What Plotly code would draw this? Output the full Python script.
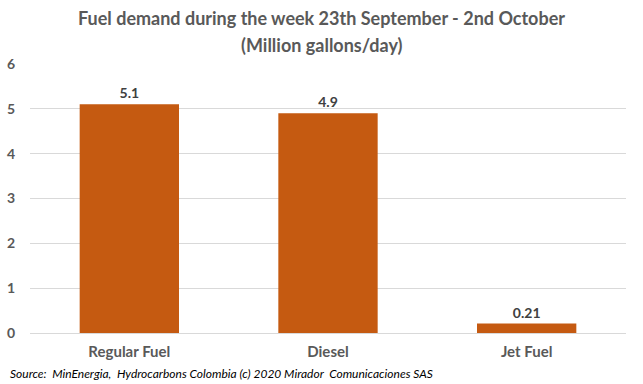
import plotly.graph_objects as go

categories = ["Regular Fuel", "Diesel", "Jet Fuel"]
values = [5.1, 4.9, 0.21]
value_labels = ["5.1", "4.9", "0.21"]
y_ticks = [0, 1, 2, 3, 4, 5, 6]

FONT = "Lato"
GRAY = "#595959"

W, H = 643, 384
L, R, T, B = 30, 17, 64, 51
PW, PH = W - L - R, H - T - B


def px_to_paper_x(px):
    return (px - L) / PW


def px_to_paper_y(py):
    return (H - B - py) / PH


fig = go.Figure(go.Bar(
    x=categories, y=values,
    marker=dict(color="#C55A11", line=dict(width=0)),
    text=value_labels, textposition="outside",
    textfont=dict(family=FONT, size=14, color="#404040", weight="bold"),
    cliponaxis=False,
))

fig.update_layout(
    width=W, height=H,
    margin=dict(l=L, r=R, t=T, b=B),
    paper_bgcolor="white", plot_bgcolor="white",
    bargap=0.5,
    showlegend=False,
    font=dict(family=FONT, color=GRAY),
    xaxis=dict(showgrid=False, showline=False, ticks="", automargin=False,
               ticklabelstandoff=8,
               tickfont=dict(family=FONT, size=15, color=GRAY, weight="bold")),
    yaxis=dict(range=[0, 6], tickvals=y_ticks, showline=False, zeroline=True,
               zerolinecolor="#D9D9D9", zerolinewidth=1, automargin=False,
               gridcolor="#D9D9D9", gridwidth=1, ticks="", ticklabelstandoff=14,
               tickfont=dict(family=FONT, size=14, color=GRAY, weight="bold")),
    annotations=[
        dict(text="Fuel demand during the week 23th September - 2nd October",
             x=px_to_paper_x(321.5), xref="paper", y=px_to_paper_y(18), yref="paper",
             yanchor="middle", showarrow=False,
             font=dict(family=FONT, size=18, color=GRAY, weight="bold")),
        dict(text="(Million gallons/day)",
             x=px_to_paper_x(321.5), xref="paper", y=px_to_paper_y(45), yref="paper",
             yanchor="middle", showarrow=False,
             font=dict(family=FONT, size=18, color=GRAY, weight="bold")),
        dict(text="Source:  MinEnergia,  Hydrocarbons Colombia (c) 2020 Mirador  Comunicaciones SAS",
             x=px_to_paper_x(8), xref="paper", y=px_to_paper_y(373), yref="paper",
             xanchor="left", yanchor="middle", showarrow=False,
             font=dict(family=FONT, size=12, color="#000000", style="italic")),
    ],
)

fig.write_html("out.html", config={"displayModeBar": False},
               post_script="document.body.style.margin='0';")
